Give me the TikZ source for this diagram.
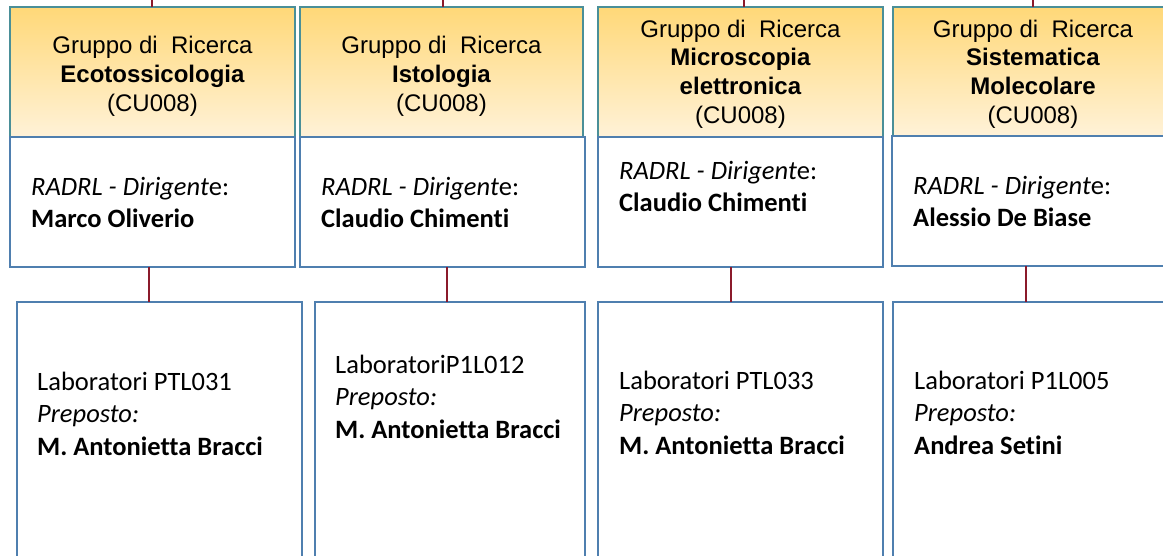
\documentclass[tikz,border=0pt]{standalone}
\usepackage{fontspec}
\setmainfont{Carlito}[Ligatures={NoCommon}]
\newfontfamily\hfont{Liberation Sans}
\definecolor{hdrtop}{HTML}{FFD878}
\definecolor{hdrbot}{HTML}{FFF2D8}
\definecolor{hdrline}{HTML}{4A8F98}
\definecolor{boxline}{HTML}{4F7FAF}
\definecolor{connline}{HTML}{8B1A2B}
\tikzset{
  hdr/.style={draw=hdrline, line width=2pt, top color=hdrtop, bottom color=hdrbot, anchor=north west, inner sep=0pt, outer sep=0pt},
  bodybox/.style={draw=boxline, line width=2pt, fill=white, anchor=north west, inner sep=0pt, outer sep=0pt},
  htext/.style={font=\hfont\fontsize{24}{28.8}\selectfont, align=center, inner sep=0pt},
  btext/.style={font=\fontsize{26.5}{32}\selectfont, align=left, inner sep=0pt, anchor=base west},
  ltext/.style={font=\fontsize{26.5}{32.5}\selectfont, align=left, inner sep=0pt, anchor=base west},
  conn/.style={draw=connline, line width=2pt},
}
\begin{document}
\begin{tikzpicture}[x=1pt,y=-1pt]
\useasboundingbox (0,0) rectangle (1163,556);
\clip (0,0) rectangle (1163,556);
% connector anchors
\coordinate (t1) at (152,0);
\coordinate (t2) at (443,0);
\coordinate (t3) at (744,0);
\coordinate (t4) at (1033,0);
\coordinate (s1) at (149,0);
\coordinate (s2) at (447,0);
\coordinate (s3) at (731,0);
\coordinate (s4) at (1026,0);
% column 1
\node[hdr, minimum width=285pt, minimum height=130pt] (h1) at (10,7) {};
\node[bodybox, minimum width=285pt, minimum height=130pt] (b1) at (10,137) {};
\node[bodybox, minimum width=285pt, minimum height=280pt] (l1) at (17,302) {};
% column 2
\node[hdr, minimum width=283pt, minimum height=130pt] (h2) at (300,7) {};
\node[bodybox, minimum width=285pt, minimum height=130pt] (b2) at (300,137) {};
\node[bodybox, minimum width=270pt, minimum height=280pt] (l2) at (315,302) {};
% column 3
\node[hdr, minimum width=285pt, minimum height=130pt] (h3) at (598,7) {};
\node[bodybox, minimum width=285pt, minimum height=130pt] (b3) at (598,137) {};
\node[bodybox, minimum width=285pt, minimum height=280pt] (l3) at (598,302) {};
% column 4
\node[hdr, minimum width=300pt, minimum height=129pt] (h4) at (893,7) {};
\node[bodybox, minimum width=300pt, minimum height=130pt] (b4) at (892,136) {};
\node[bodybox, minimum width=300pt, minimum height=280pt] (l4) at (893,302) {};
% connectors
\draw[conn] (t1) -- (t1 |- h1.north);
\draw[conn] (t2) -- (t2 |- h2.north);
\draw[conn] (t3) -- (t3 |- h3.north);
\draw[conn] (t4) -- (t4 |- h4.north);
\draw[conn] (s1 |- b1.south) -- (s1 |- l1.north);
\draw[conn] (s2 |- b2.south) -- (s2 |- l2.north);
\draw[conn] (s3 |- b3.south) -- (s3 |- l3.north);
\draw[conn] (s4 |- b4.south) -- (s4 |- l4.north);
% header texts
\node[htext] (h1t) at (152.5,76.5) {Gruppo di \ Ricerca\\\textbf{Ecotossicologia}\\(CU008)};
\node[htext] (h2t) at (441.5,76.5) {Gruppo di \ Ricerca\\\textbf{Istologia}\\(CU008)};
\node[htext] (h3t) at (740.5,74) {Gruppo di \ Ricerca\\\textbf{Microscopia}\\\textbf{elettronica}\\(CU008)};
\node[htext] (h4t) at (1033,74) {Gruppo di \ Ricerca\\\textbf{Sistematica}\\\textbf{Molecolare}\\(CU008)};
% body texts (anchored at last baseline)
\node[btext] (b1t) at (31,228) {\textit{RADRL - Dirigent}e:\\\textbf{Marco Oliverio}};
\node[btext] (b2t) at (321,228) {\textit{RADRL - Dirigent}e:\\\textbf{Claudio Chimenti}};
\node[btext] (b3t) at (619,212) {\textit{RADRL - Dirigent}e:\\\textbf{Claudio Chimenti}};
\node[btext] (b4t) at (913,227) {\textit{RADRL - Dirigent}e:\\\textbf{Alessio De Biase}};
% lab texts (anchored at last baseline)
\node[ltext] (l1t) at (37,455) {Laboratori PTL031\\\textit{Preposto:}\\\textbf{M. Antonietta Bracci}};
\node[ltext] (l2t) at (335,438) {LaboratoriP1L012\\\textit{Preposto:}\\\textbf{M. Antonietta Bracci}};
\node[ltext] (l3t) at (619,454) {Laboratori PTL033\\\textit{Preposto:}\\\textbf{M. Antonietta Bracci}};
\node[ltext] (l4t) at (914,454) {Laboratori P1L005\\\textit{Preposto:}\\\textbf{Andrea Setini}};
\end{tikzpicture}
\end{document}
